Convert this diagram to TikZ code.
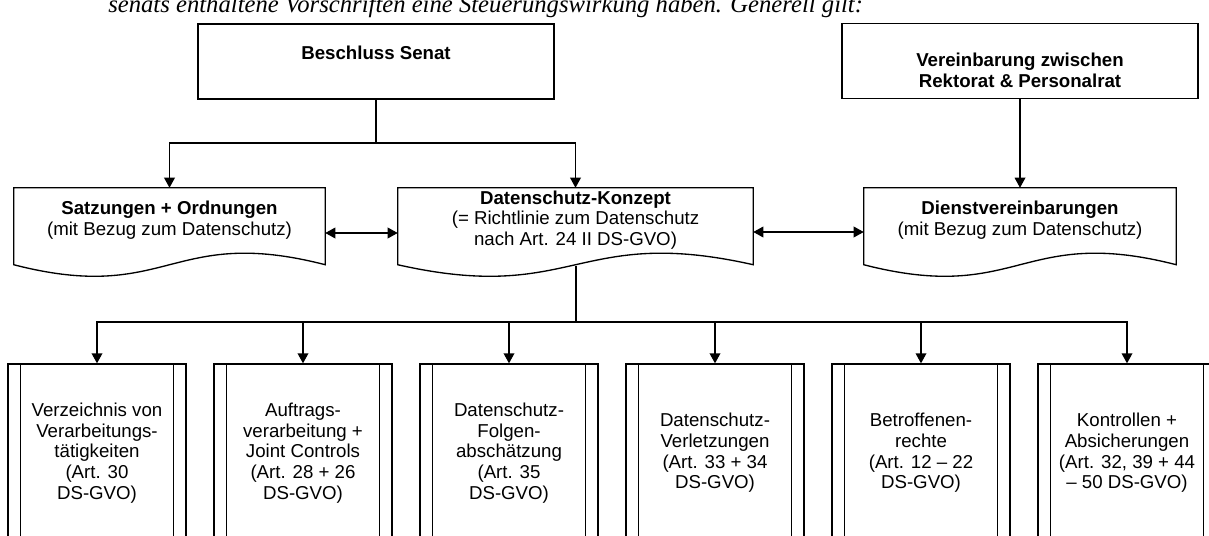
\documentclass[tikz,border=0pt]{standalone}
\usepackage{fontspec}
\setmainfont{Liberation Sans}
\newfontfamily\introfont{Liberation Serif}
\usetikzlibrary{arrows.meta}

% outline of a document shape round a text node (name, width in px)
\newcommand{\docoutline}[2]{%
  \draw[outline] (#1.north west) -- (#1.north east) -- ++(0,77)
    .. controls +({-#2/2},-40) and +({#2/2},40) .. ([yshift=-57.75pt]#1.north west) -- cycle;}

\begin{document}
\begin{tikzpicture}[
    x=0.75pt, y=-0.75pt,
    >={Triangle[length=7.5pt,width=8pt]},
    outline/.style={draw, line width=1pt},
    txt/.style={font=\fontsize{14}{15.5}\selectfont, align=center, inner sep=0pt},
    topbox/.style={outline, minimum width=267pt, minimum height=56.25pt},
    docbox/.style={txt, minimum height=48pt},
    procbox/.style={txt, outline, minimum width=133.5pt, minimum height=133.5pt},
    line/.style={line width=1pt}
]
    \useasboundingbox (0,0) rectangle (1209,535);
    \clip (0,0) rectangle (1209,535);

    \node[anchor=base west, inner sep=0pt, font=\introfont\itshape\fontsize{18.5}{20}\selectfont] (intro) at (108,13)
        {senats enthaltene Vorschriften eine Steuerungswirkung haben. Generell gilt:};

    % top level
    \node[topbox] (senat) at (376,61.5) {};
    \node[txt] (senattext) at (376,53) {\textbf{Beschluss Senat}};
    \node[topbox] (verein) at (1020,61) {};
    \node[txt] (vereintext) at (1020,70) {\textbf{Vereinbarung zwischen}\\\textbf{Rektorat \& Personalrat}};

    % documents
    \node[docbox, minimum width=233.25pt] (satz) at (169.5,220)
        {\textbf{Satzungen + Ordnungen}\\(mit Bezug zum Datenschutz)};
    \node[docbox, minimum width=266.25pt] (dsk) at (575.5,220)
        {\textbf{Datenschutz-Konzept}\\(= Richtlinie zum Datenschutz\\nach Art. 24 II DS-GVO)};
    \node[docbox, minimum width=234pt] (dienst) at (1020,220)
        {\textbf{Dienstvereinbarungen}\\(mit Bezug zum Datenschutz)};
    \docoutline{satz}{311}
    \docoutline{dsk}{355}
    \docoutline{dienst}{312}

    % bottom row
    \node[procbox] (b1) at (97,453) {Verzeichnis von\\Verarbeitungs-\\tätigkeiten\\(Art. 30\\DS-GVO)};
    \node[procbox] (b2) at (303,453) {Auftrags-\\verarbeitung +\\Joint Controls\\(Art. 28 + 26\\DS-GVO)};
    \node[procbox] (b3) at (509,453) {Datenschutz-\\Folgen-\\abschätzung\\(Art. 35\\DS-GVO)};
    \node[procbox] (b4) at (715,453) {Datenschutz-\\Verletzungen\\(Art. 33 + 34\\DS-GVO)};
    \node[procbox] (b5) at (921,453) {Betroffenen-\\rechte\\(Art. 12 -- 22\\DS-GVO)};
    \node[procbox] (b6) at (1127,453) {Kontrollen +\\Absicherungen\\(Art. 32, 39 + 44\\-- 50 DS-GVO)};
    \foreach \i in {1,...,6} {
        \draw[line] ([xshift=9.75pt]b\i.north west) -- ([xshift=9.75pt]b\i.south west);
        \draw[line] ([xshift=-9.75pt]b\i.north east) -- ([xshift=-9.75pt]b\i.south east);
    }

    % connectors
    \coordinate (senatfork) at (376,143);
    \draw[line] (senat.south) -- (senatfork);
    \draw[line, ->] (senatfork) -| (satz.north);
    \draw[line, ->] (senatfork) -| (dsk.north);
    \draw[line, ->] (verein) -- (dienst);
    \draw[line, <->] ([yshift=-9.75pt]satz.east) -- ([yshift=-9.75pt]dsk.west);
    \draw[line, <->] ([yshift=-9pt]dsk.east) -- ([yshift=-9pt]dienst.west);

    \coordinate (dskfoot) at (576,266);
    \coordinate (bus) at (576,322);
    \draw[line width=2pt] (dskfoot) -- (bus);
    \foreach \i in {1,...,6}
        \draw[line, ->] (bus) -| (b\i.north);
\end{tikzpicture}
\end{document}
